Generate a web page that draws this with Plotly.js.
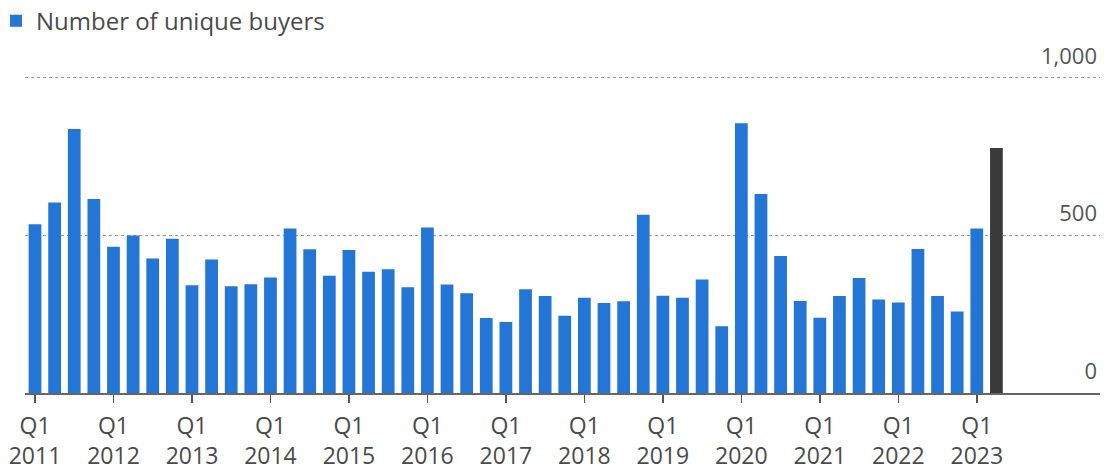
<!DOCTYPE html>
<html>
<head>
<meta charset="utf-8">
<script src="https://cdn.plot.ly/plotly-3.0.1.min.js"></script>
<style>html,body{margin:0;padding:0;background:#fff;}#chart{width:1111px;height:474px;}</style>
</head>
<body>
<div id="chart"></div>
<script>
const years = [2011,2012,2013,2014,2015,2016,2017,2018,2019,2020,2021,2022,2023];
const quarters = ["Q1","Q2","Q3","Q4"];
const categories = [];
years.forEach(y => quarters.forEach(q => { if (!(y === 2023 && (q === "Q3" || q === "Q4"))) categories.push(q + " " + y); }));

const buyers = [
  536, 605, 838, 616,
  464, 500, 427, 490,
  342, 424, 339, 345,
  367, 522, 456, 372,
  454, 385, 393, 336,
  525, 344, 317, 238,
  225, 329, 308, 245,
  302, 286, 291, 566,
  309, 302, 360, 212,
  856, 632, 435, 292,
  239, 308, 365, 297,
  287, 457, 308, 259,
  522
];
const latestCategory = ["Q2 2023"];
const latestValue = [778];

const tickCats = categories.filter(c => c.startsWith("Q1"));
const tickText = tickCats.map(c => c.replace(" ", "<br>"));

const FONT = "'Open Sans', 'Noto Sans', sans-serif";

const traces = [
  {
    type: "bar", x: categories.slice(0, buyers.length), y: buyers,
    name: "Number of unique buyers",
    marker: {color: "#2476d6"},
    hoverinfo: "x+y"
  },
  {
    type: "bar", x: latestCategory, y: latestValue,
    name: "Latest", showlegend: false,
    marker: {color: "#3a3a3a"},
    hoverinfo: "x+y"
  }
];

const layout = {
  width: 1111, height: 474,
  margin: {l: 25, r: 11, t: 37, b: 81, pad: 0, autoexpand: false},
  paper_bgcolor: "#fff", plot_bgcolor: "#fff",
  barmode: "overlay",
  bargap: 0.35,
  font: {family: FONT, color: "#555", size: 22},
  showlegend: true,
  legend: {
    x: -0.027, xanchor: "left", y: 1.108, yanchor: "top",
    orientation: "h",
    font: {size: 24, color: "#4a4a4a", family: FONT},
    itemwidth: 30, traceorder: "normal",
    bgcolor: "rgba(0,0,0,0)"
  },
  xaxis: {
    type: "category",
    categoryorder: "array", categoryarray: categories,
    range: [-0.51, 54.28],
    tickmode: "array", tickvals: tickCats, ticktext: tickText,
    ticks: "outside", ticklen: 8, tickwidth: 1.5, tickcolor: "#555",
    ticklabelstandoff: 3,
    showline: true, linecolor: "#666", linewidth: 2,
    showgrid: false, zeroline: false,
    tickfont: {size: 23, color: "#4a4a4a", family: FONT},
    fixedrange: true
  },
  yaxis: {
    range: [0, 1130],
    tickmode: "array", tickvals: [0, 500, 1000], ticktext: ["0", "500", "1,000"],
    side: "right",
    ticklabelposition: "inside",
    ticklabelshift: -22,
    ticks: "",
    showgrid: true, gridcolor: "#999", griddash: "dot", gridwidth: 1,
    zeroline: false, showline: false,
    tickfont: {size: 22, color: "#555", family: FONT},
    fixedrange: true
  }
};

Plotly.newPlot("chart", traces, layout, {displayModeBar: false, staticPlot: true});
</script>
</body>
</html>
